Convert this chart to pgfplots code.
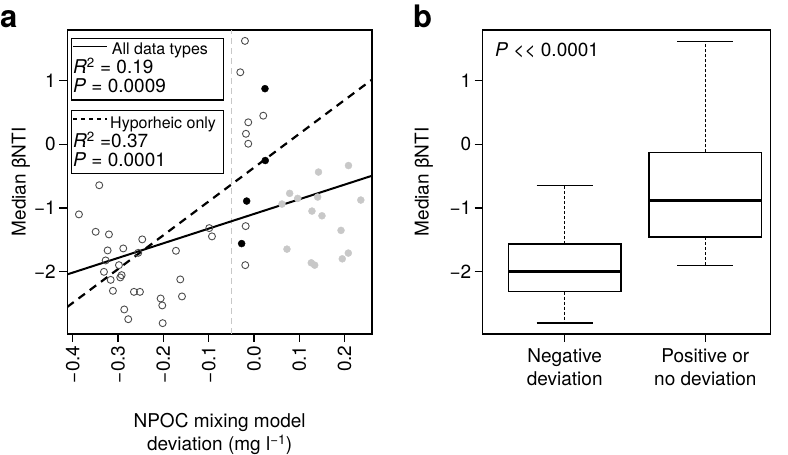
\documentclass[border=0pt]{standalone}
\usepackage{pgfplots}
\pgfplotsset{compat=1.18}
\usepackage{pgfplotstable}
\usepackage{fontspec}
\setmainfont{TeX Gyre Heros}

\definecolor{opengray}{HTML}{4D4D4D}
\definecolor{ptgray}{HTML}{C8C8C8}
\newcommand{\fbig}{\fontsize{19}{23.3}\selectfont}
\newcommand{\fsmall}{\fontsize{16}{19}\selectfont}

% open circles: other samples
\pgfplotstableread{
x y
-0.0199 1.622
-0.0302 1.130
0.0205 0.449
-0.0126 0.345
-0.0177 0.165
-0.0126 0.009
-0.3415 -0.642
-0.3863 -1.099
-0.3494 -1.372
-0.3201 -1.413
-0.2466 -1.491
-0.0987 -1.314
-0.0927 -1.444
-0.0183 -1.283
-0.3230 -1.664
-0.2885 -1.633
-0.2554 -1.702
-0.1722 -1.670
-0.3274 -1.821
-0.2980 -1.895
-0.3311 -2.000
-0.0192 -1.895
-0.2921 -2.052
-0.2951 -2.088
-0.3163 -2.126
-0.1627 -2.119
-0.3113 -2.298
-0.2649 -2.314
-0.2517 -2.314
-0.1589 -2.386
-0.2060 -2.418
-0.2024 -2.527
-0.2863 -2.590
-0.2775 -2.743
-0.2015 -2.805
}\openpts

\pgfplotstableread{
x y
0.0243 0.873
0.0249 -0.254
-0.0161 -0.890
-0.0272 -1.557
}\blackpts

\pgfplotstableread{
x y
0.1424 -0.435
0.2086 -0.333
0.0788 -0.769
0.0965 -0.848
0.1406 -0.827
0.2358 -0.874
0.0618 -0.937
0.1280 -1.047
0.1501 -1.121
0.1921 -1.350
0.0728 -1.644
0.1265 -1.859
0.1340 -1.895
0.1949 -1.796
0.2082 -1.706
}\graypts

\pgfplotsset{
  rbase/.style={
    scale only axis,
    anchor=south west,
    axis line style={line width=1.4pt},
    tick style={black, line width=1.2pt},
    major tick length=8pt,
    tick align=outside,
    xtick pos=left, ytick pos=left,
    ymin=-2.975, ymax=1.793,
    ytick={-2,-1,0,1},
    yticklabels={−2,−1,0,1},
    tick label style={font=\fbig},
    label style={font=\fbig},
    ylabel={Median βNTI},
  },
  whisk/.style={black, line width=1.2pt, dash pattern=on 3pt off 2pt},
  edge/.style={black, line width=1.4pt},
}

\begin{document}
\begin{tikzpicture}
\useasboundingbox (0,0) rectangle (788pt,455pt);

% panel a
\begin{axis}[rbase,
  at={(67.3pt,121pt)},
  width=304.7pt, height=304pt,
  xmin=-0.412, xmax=0.2605,
  xtick={-0.4,-0.3,-0.2,-0.1,0,0.1,0.2},
  xticklabels={−0.4,−0.3,−0.2,−0.1,0.0,0.1,0.2},
  xticklabel style={rotate=90, anchor=east},
  xlabel={NPOC mixing model\\deviation (mg l\textsuperscript{−1})},
  xlabel style={align=center, at={(axis description cs:0.5,0)}, anchor=north, yshift=-79pt, inner sep=0pt},
  ylabel style={at={(axis description cs:-0.152,0.5)}, anchor=center},
]
\addplot[ptgray, line width=1.4pt, dash pattern=on 6pt off 4pt] coordinates {(-0.049,-2.975) (-0.049,1.793)};
\addplot[only marks, mark=o, mark size=3.5pt, mark options={draw=opengray, line width=0.9pt}] table {\openpts};
\addplot[only marks, mark=*, mark size=3.5pt, mark options={draw=ptgray, fill=ptgray}] table {\graypts};
\addplot[only marks, mark=*, mark size=3.5pt, mark options={draw=black, fill=black}] table {\blackpts};
\addplot[black, line width=2pt] coordinates {(-0.412,-2.04) (0.2605,-0.493)};
\addplot[black, line width=2.2pt, dash pattern=on 8pt off 6pt] coordinates {(-0.412,-2.55) (0.2605,1.015)};
\end{axis}

% panel b: boxes at x=1 and x=2, half width 0.4, caps half width 0.2
\begin{axis}[rbase,
  at={(482.7pt,121pt)},
  width=288pt, height=304pt,
  xmin=0.4168, xmax=2.465,
  xtick={1,2},
  xticklabels={{Negative\\deviation},{Positive or\\no deviation}},
  xticklabel style={align=center, anchor=north, yshift=-3pt},
  ylabel style={at={(axis description cs:-0.204,0.5)}, anchor=center},
]
% negative deviation
\addplot[whisk] coordinates {(1,-1.565) (1,-0.65)};
\addplot[whisk] coordinates {(1,-2.31) (1,-2.80)};
\addplot[edge] coordinates {(0.8,-0.65) (1.2,-0.65)};
\addplot[edge] coordinates {(0.8,-2.80) (1.2,-2.80)};
\addplot[edge] coordinates {(0.6,-2.31) (1.4,-2.31) (1.4,-1.565) (0.6,-1.565) (0.6,-2.31)} -- cycle;
\addplot[black, line width=3pt] coordinates {(0.6,-2.0) (1.4,-2.0)};
% positive or no deviation
\addplot[whisk] coordinates {(2,-0.126) (2,1.617)};
\addplot[whisk] coordinates {(2,-1.455) (2,-1.90)};
\addplot[edge] coordinates {(1.8,1.617) (2.2,1.617)};
\addplot[edge] coordinates {(1.8,-1.90) (2.2,-1.90)};
\addplot[edge] coordinates {(1.6,-1.455) (2.4,-1.455) (2.4,-0.126) (1.6,-0.126) (1.6,-1.455)} -- cycle;
\addplot[black, line width=3pt] coordinates {(1.6,-0.874) (2.4,-0.874)};
\end{axis}

% legend boxes of panel a
\draw[line width=1.5pt, fill=white] (71.7pt,355pt) rectangle (223.3pt,416.7pt);
\draw[line width=1.5pt] (73pt,408.3pt) -- (107pt,408.3pt);
\node[anchor=base west, inner sep=0pt, font=\fsmall] at (111.7pt,400.7pt) {All data types};
\node[anchor=base west, inner sep=0pt, font=\fbig] at (73pt,381.7pt) {\textit{R}\textsuperscript{2} = 0.19};
\node[anchor=base west, inner sep=0pt, font=\fbig] at (73pt,362.3pt) {\textit{P} = 0.0009};

\draw[line width=1.5pt, fill=white] (71.7pt,281.7pt) rectangle (223.3pt,344.3pt);
\draw[line width=1.5pt, dash pattern=on 4pt off 4pt] (73pt,336pt) -- (107pt,336pt);
\node[anchor=base west, inner sep=0pt, font=\fsmall] at (110pt,326.7pt) {Hyporheic only};
\node[anchor=base west, inner sep=0pt, font=\fbig] at (73pt,307.3pt) {\textit{R}\textsuperscript{2} =0.37};
\node[anchor=base west, inner sep=0pt, font=\fbig] at (73pt,288.3pt) {\textit{P} = 0.0001};

\node[anchor=base west, inner sep=0pt, font=\fbig] at (495pt,398pt) {\textit{P} <{}< 0.0001};

% panel letters
\node[anchor=base west, inner sep=0pt, font=\fontsize{31}{31}\selectfont\bfseries] at (0pt,427.5pt) {a};
\node[anchor=base west, inner sep=0pt, font=\fontsize{31}{31}\selectfont\bfseries] at (413pt,427.5pt) {b};
\end{tikzpicture}
\end{document}
